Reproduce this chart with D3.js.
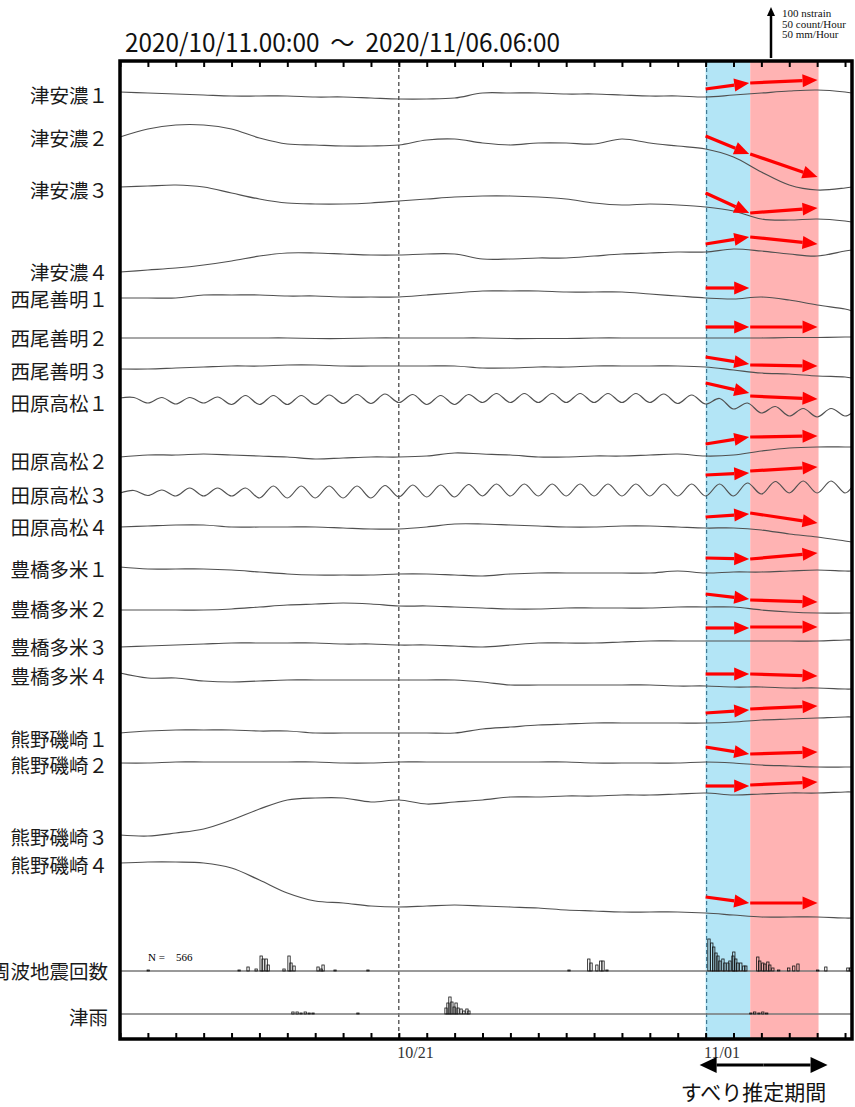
<!DOCTYPE html>
<html>
<head>
<meta charset="utf-8">
<script src="https://cdn.jsdelivr.net/npm/d3@7"></script>
<style>
body { margin: 0; background: #fff; }
svg { display: block; }
</style>
</head>
<body>
<div id="chart"></div>
<script>
// time span of the plot
const startTime = new Date(Date.UTC(2020, 9, 11, 0, 0));
const endTime = new Date(Date.UTC(2020, 10, 6, 6, 0));

const stations = ['津安濃１','津安濃２','津安濃３','津安濃４','西尾善明１','西尾善明２','西尾善明３',
  '田原高松１','田原高松２','田原高松３','田原高松４','豊橋多米１','豊橋多米２','豊橋多米３','豊橋多米４',
  '熊野磯崎１','熊野磯崎２','熊野磯崎３','熊野磯崎４'];

// sample times (days since start)
const dailyDays = d3.range(27).concat([26.25]);
const halfDays = d3.range(53).map(i => i / 2).concat([26.25]);

// strain changes in nstrain, relative to the first sample
const tsuAno1 = [0,-2,-4,-6,-8,-8,-8,-10,-10,-12,-14,-14,-12,-2,-2,-2,-4,-4,-6,-8,-8,-10,-6,-2,2,4,0,-2];
const tsuAno2 = [0,16,24,24,16,-2,-14,-16,-18,-18,-16,-6,-4,-12,-16,-12,-12,-14,-4,-12,-18,-24,-40,-70,-96,-106,-102,-100];
const tsuAno3 = [0,2,4,0,-12,-24,-32,-34,-34,-32,-28,-24,-20,-18,-18,-20,-24,-32,-36,-34,-36,-40,-48,-64,-66,-64,-68,-70];
const tsuAno4 = [0,4,8,14,22,32,38,38,36,34,34,36,36,26,26,28,28,32,36,38,40,40,46,42,36,32,42,44];
const nishio1 = [0,0,0,6,6,6,4,4,2,2,2,6,10,14,14,14,12,12,12,8,4,0,-2,2,-4,-14,-22,-26];
const nishio2 = [0,0,0,0,0,0,0,-1,-1,0,0,0,0,0,-1,-1,-1,0,0,0,0,0,0,0,1,1,2,2];
const nishio3 = [0,0,2,4,6,6,8,8,6,6,6,6,6,2,2,4,4,6,6,6,6,4,-2,-8,-10,-14,-16,-18];
const tahara1 = [0,1,-10,1,-12,1,-10,2,-13,5,-13,5,-13,5,-13,6,-11,7,-11,8,-9,7,-13,5,-13,7,
  -9,9,-9,9,-9,9,-9,9,-9,9,-9,9,-9,8,-11,6,-12,-1,-22,-10,-30,-17,-36,-21,-38,-21,-36,-30];
const tahara2 = [0,4,4,6,4,2,0,-4,-2,0,0,2,8,6,4,0,0,2,2,4,6,2,4,12,18,20,20,20];
const tahara3 = [0,5,-5,6,-6,10,-6,10,-6,10,-10,14,-10,14,-10,14,-10,14,-10,15,-8,16,-8,16,-8,17,
  -6,18,-6,18,-6,18,-6,18,-6,18,-6,18,-6,18,-6,18,-6,18,-6,20,-2,23,0,24,0,24,0,12];
const tahara4 = [0,2,4,4,0,0,0,0,-2,-4,-4,0,6,6,4,2,0,0,2,2,0,-2,-2,-6,-14,-20,-28,-30];
const toyo1 = [0,-4,-4,-4,-6,-10,-14,-16,-16,-16,-14,-14,-16,-18,-14,-12,-12,-12,-12,-12,-8,-12,-10,-10,-8,-6,-8,-8];
const toyo2 = [0,0,0,0,2,6,10,12,14,12,8,8,6,4,2,2,4,4,4,4,6,6,6,0,-4,-6,-6,-6];
const toyo3 = [0,2,4,6,8,8,8,8,6,6,4,4,2,0,4,8,8,8,10,12,12,12,12,12,12,12,14,14];
const toyo4 = [0,-10,-10,-16,-18,-16,-14,-14,-14,-14,-14,-14,-14,-18,-24,-24,-24,-24,-24,-24,-26,-26,-28,-28,-30,-30,-32,-32];
const kumano1 = [0,4,6,6,6,4,4,0,0,0,0,0,0,8,12,16,18,20,20,20,20,20,22,26,28,30,32,32];
const kumano2 = [0,0,2,2,2,2,2,2,0,0,2,2,2,2,2,2,2,0,0,0,0,2,0,-4,-6,-8,-8,-8];
const kumano3 = [0,-2,4,12,30,52,70,74,74,66,70,62,66,70,76,76,78,78,80,80,82,84,80,82,84,84,86,86];
const kumano4 = [0,2,2,0,-10,-34,-60,-76,-80,-86,-88,-86,-84,-86,-88,-90,-94,-96,-98,-98,-98,-100,-104,-108,-108,-108,-110,-110];

const series = [tsuAno1, tsuAno2, tsuAno3, tsuAno4, nishio1, nishio2, nishio3,
  tahara1, tahara2, tahara3, tahara4, toyo1, toyo2, toyo3, toyo4,
  kumano1, kumano2, kumano3, kumano4];

// estimated slip periods (days since start) and fitted change vectors (nstrain)
const blueStart = 21, blueEnd = 22.6, pinkEnd = 25.05;
const blueArrowFrom = [6,2,-12,56,20,22,24,30,26,36,20,18,32,38,-2,40,32,98,-68];
const blueArrowTo   = [18,-34,-52,70,20,22,10,10,40,40,26,16,22,38,-2,46,18,98,-80];
const pinkArrowFrom = [18,-34,-52,70,null,22,8,4,40,44,28,16,20,40,-2,48,18,100,-80];
const pinkArrowTo   = [24,-80,-42,56,null,22,6,-2,42,52,8,28,16,40,-6,54,22,106,-80];

// low frequency earthquakes (count / hour) and rain (mm / hour)
const lfeDays = [0.97,4.23,4.55,4.84,5.02,5.09,5.2,5.27,5.84,6.02,6.09,6.2,7.06,7.17,7.24,7.67,8.85,16.06,16.77,16.85,
  17.06,17.2,17.28,17.42,21.08,21.18,21.25,21.33,21.4,21.47,21.58,21.65,21.76,21.83,21.94,21.97,22.04,22.11,22.22,22.33,
  22.4,22.83,22.9,23.01,23.08,23.19,23.26,23.37,23.58,23.94,24.12,24.27,24.98,25.27,26.06,26.16];
const lfeCounts = [1,1,4,2,15,12,12,6,2,15,8,5,4,2,6,1,1,1,12,8,
  6,10,10,1,32,28,24,18,15,10,12,8,8,10,15,19,12,8,8,5,
  5,14,10,8,7,9,6,3,1,3,5,7,1,4,3,3];
const rainDays = [6.16,6.31,6.45,6.6,6.74,6.88,8.49,11.65,11.72,11.79,11.86,11.94,12.01,12.08,12.19,12.29,12.4,12.47,
  22.58,22.72,22.87,23.01,23.15];
const rainMm = [2,2,1,2,1,1,1,6,11,17,12,7,11,6,5,3,5,3,1,2,1,2,1];

const xLabels = [{day: 10, text: '10/21'}, {day: 21, text: '11/01'}];
const scaleLines = ['100 nstrain', '50 count/Hour', '50 mm/Hour'];

// layout
const w = 855, h = 1107;
const plotL = 120, plotR = 852, plotT = 61, plotB = 1039;
const rowBase = [92,137,187,272,298,338,369,398,457,493,527,567,610,647,673,733,763,835,863];
const labelY = [96,139,191,273,300,339,372,404,462,496,528,570,610,648,677,740,766,838,866];
const lfeBase = 971, rainBase = 1014;
const cjk = "'Noto Sans CJK JP', 'Noto Sans CJK SC', sans-serif";
const serif = "'Liberation Serif', 'DejaVu Serif', serif";

const dayDate = d => new Date(startTime.getTime() + d * 864e5);
const x = d3.scaleUtc().domain([startTime, endTime]).range([plotL, plotR]);
const strain = d3.scaleLinear().domain([0, 100]).range([0, -50]);
const rate = d3.scaleLinear().domain([0, 50]).range([0, -50]);

const svg = d3.select('#chart').append('svg')
  .attr('width', w).attr('height', h);

// slip periods
svg.append('rect')
  .attr('x', x(dayDate(blueStart))).attr('y', plotT)
  .attr('width', x(dayDate(blueEnd)) - x(dayDate(blueStart))).attr('height', plotB - plotT)
  .style('fill', '#b3e5f6');
svg.append('rect')
  .attr('x', x(dayDate(blueEnd))).attr('y', plotT)
  .attr('width', x(dayDate(pinkEnd)) - x(dayDate(blueEnd))).attr('height', plotB - plotT)
  .style('fill', '#ffb3b3');

// dashed day markers
svg.append('line')
  .attr('x1', x(dayDate(10))).attr('x2', x(dayDate(10)))
  .attr('y1', plotT).attr('y2', plotB)
  .style('stroke', '#111').style('stroke-width', 1).style('stroke-dasharray', '4,3');
svg.append('line')
  .attr('x1', x(dayDate(21)) + 1).attr('x2', x(dayDate(21)) + 1)
  .attr('y1', plotT).attr('y2', plotB)
  .style('stroke', '#3f7893').style('stroke-width', 1.2).style('stroke-dasharray', '4,3');

// strain traces
series.forEach((vals, i) => {
  const days = vals.length === dailyDays.length ? dailyDays : halfDays;
  const line = d3.line()
    .x((v, j) => x(dayDate(days[j])))
    .y(v => rowBase[i] + strain(v))
    .curve(d3.curveCatmullRom);
  svg.append('path')
    .attr('d', line(vals))
    .style('fill', 'none')
    .style('stroke', '#505050')
    .style('stroke-width', 1.2);
});

// baselines for counts
[lfeBase, rainBase].forEach(y => {
  svg.append('line')
    .attr('x1', plotL).attr('x2', plotR).attr('y1', y).attr('y2', y)
    .style('stroke', '#777').style('stroke-width', 1.3);
});

function bars(days, vals, base) {
  svg.append('g').selectAll('rect')
    .data(days)
    .enter()
    .append('rect')
    .attr('x', d => x(dayDate(d)))
    .attr('width', d => x(dayDate(d + 1 / 12)) - x(dayDate(d)))
    .attr('y', (d, i) => base + rate(vals[i]))
    .attr('height', (d, i) => -rate(vals[i]))
    .style('fill', 'none')
    .style('stroke', '#111')
    .style('stroke-width', 0.8);
}
bars(lfeDays, lfeCounts, lfeBase);
bars(rainDays, rainMm, rainBase);

svg.append('text')
  .attr('x', 148).attr('y', 961)
  .attr('xml:space', 'preserve')
  .style('font-family', serif).style('font-size', '11px').style('white-space', 'pre')
  .text('N =    566');

// arrows
function arrow(x1, y1, x2, y2, color, width, headLen, headW) {
  const ang = Math.atan2(y2 - y1, x2 - x1);
  const bx = x2 - headLen * Math.cos(ang), by = y2 - headLen * Math.sin(ang);
  svg.append('line')
    .attr('x1', x1).attr('y1', y1).attr('x2', bx).attr('y2', by)
    .style('stroke', color).style('stroke-width', width);
  const px = -Math.sin(ang) * headW, py = Math.cos(ang) * headW;
  svg.append('path')
    .attr('d', `M${x2},${y2}L${bx + px},${by + py}L${bx - px},${by - py}Z`)
    .style('fill', color);
}

stations.forEach((s, i) => {
  const base = rowBase[i];
  arrow(x(dayDate(blueStart)), base + strain(blueArrowFrom[i]),
        x(dayDate(blueEnd)) - 1, base + strain(blueArrowTo[i]), '#ff0000', 3.2, 15, 6.5);
  if (pinkArrowFrom[i] !== null) {
    arrow(x(dayDate(blueEnd)), base + strain(pinkArrowFrom[i]),
          x(dayDate(pinkEnd)) - 1, base + strain(pinkArrowTo[i]), '#ff0000', 3.2, 15, 6.5);
  }
});

// frame
svg.append('rect')
  .attr('x', plotL).attr('y', plotT)
  .attr('width', plotR - plotL).attr('height', plotB - plotT)
  .style('fill', 'none').style('stroke', '#000').style('stroke-width', 3.5);

const topAxis = d3.axisTop(x).ticks(d3.utcDay.every(1))
  .tickSizeInner(-6).tickSizeOuter(0).tickFormat('');
svg.append('g').attr('transform', `translate(0,${plotT})`).call(topAxis)
  .call(g => g.select('.domain').remove())
  .selectAll('line').style('stroke-width', 2);

const labelMap = new Map(xLabels.map(l => [dayDate(l.day).getTime(), l.text]));
const bottomAxis = d3.axisBottom(x).ticks(d3.utcDay.every(1))
  .tickSizeInner(-6).tickSizeOuter(0).tickPadding(8)
  .tickFormat(d => labelMap.get(d.getTime()) || '');
svg.append('g').attr('transform', `translate(0,${plotB})`).call(bottomAxis)
  .call(g => g.select('.domain').remove())
  .call(g => g.selectAll('line').style('stroke-width', 2))
  .selectAll('text')
  .attr('text-anchor', 'start').attr('dx', -2)
  .style('font-family', serif).style('font-size', '16px').style('fill', '#333');

// station labels
svg.append('g').selectAll('text')
  .data(stations)
  .enter()
  .append('text')
  .attr('x', 108)
  .attr('y', (d, i) => labelY[i] + 7)
  .attr('text-anchor', 'end')
  .style('font-family', cjk).style('font-size', '19.5px').style('fill', '#1a1a1a')
  .text(d => d);

[['低周波地震回数', 972], ['津雨', 1018]].forEach(([t, y]) => {
  svg.append('text')
    .attr('x', 108).attr('y', y + 7).attr('text-anchor', 'end')
    .style('font-family', cjk).style('font-size', '19.5px').style('fill', '#1a1a1a')
    .text(t);
});

// title
svg.append('text')
  .attr('x', 125).attr('y', 52)
  .attr('textLength', 435).attr('lengthAdjust', 'spacingAndGlyphs')
  .attr('xml:space', 'preserve')
  .style('white-space', 'pre')
  .style('font-family', cjk).style('font-size', '25px').style('fill', '#111')
  .text('2020/10/11.00:00  〜  2020/11/06.06:00');

// scale arrow
arrow(771, 58, 771, 7, '#000', 2.5, 9, 4);
svg.append('g').selectAll('text')
  .data(scaleLines)
  .enter()
  .append('text')
  .attr('x', 782)
  .attr('y', (d, i) => 17 + i * 10.5)
  .style('font-family', serif).style('font-size', '11px').style('fill', '#111')
  .text(d => d);

// estimated period marker
const pA = x(dayDate(blueStart)) - 6, pB = x(dayDate(pinkEnd)) + 9, pY = 1065;
arrow((pA + pB) / 2, pY, pA, pY, '#000', 3, 17, 8);
arrow((pA + pB) / 2, pY, pB, pY, '#000', 3, 17, 8);
svg.append('text')
  .attr('x', (pA + pB) / 2 - 10).attr('y', 1100)
  .attr('text-anchor', 'middle')
  .style('font-family', cjk).style('font-size', '21px').style('fill', '#111')
  .text('すべり推定期間');
</script>
</body>
</html>
